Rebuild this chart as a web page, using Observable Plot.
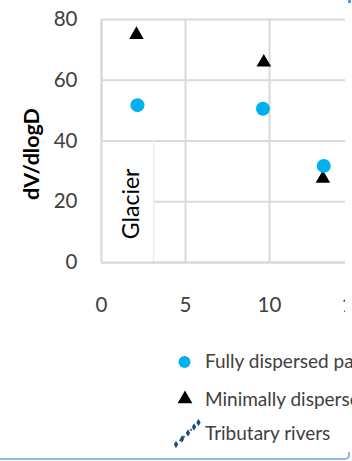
<!DOCTYPE html>
<html>
<head>
<meta charset="utf-8">
<script src="https://cdn.jsdelivr.net/npm/d3@7"></script>
<script src="https://cdn.jsdelivr.net/npm/@observablehq/plot@0.6"></script>
<style>
  html, body { margin: 0; padding: 0; background: #fff; }
  #wrap { position: relative; width: 352px; height: 461px; overflow: hidden; background: #fff; font-family: Lato, "Open Sans", sans-serif; }
  #plotbox { position: absolute; left: 0; top: 0; width: 345px; height: 320px; overflow: hidden; }
  #plotbox svg { max-width: none !important; }
  #ylabel { position: absolute; left: 31px; top: 154px; transform: translate(-50%, -50%) rotate(-90deg); font-weight: bold; font-size: 21.5px; color: #000; white-space: nowrap; }
  #legend { position: absolute; left: 0; top: 320px; }
  #border { position: absolute; left: -4px; top: 452px; width: 352px; height: 6px; border-bottom: 2px solid #8fb6e0; border-right: 2px solid #8fb6e0; border-bottom-right-radius: 5px; }
  #corner { position: absolute; left: 348px; top: 0px; width: 3px; height: 3px; background: #5b9bd5; }
</style>
</head>
<body>
<div id="wrap">
  <div id="plotbox"></div>
  <div id="ylabel">dV/dlogD</div>
  <div id="legend"></div>
  <div id="border"></div>
  <div id="corner"></div>
</div>
<script>
// Data
const xTicks = [0, 5, 10, 15];
const yTicks = [0, 20, 40, 60, 80];
const fullyX = [2.14, 9.61, 13.23];
const fullyY = [51.8, 50.6, 31.8];
const minimalX = [2.08, 9.66, 13.18];
const minimalY = [75.0, 65.9, 27.6];
const seriesNames = ["Fully dispersed particles", "Minimally dispersed particles", "Tributary rivers"];
const glacierLabel = ["Glacier"];
const glacierBox = [{x1: 0, x2: 3.1, y1: 0, y2: 40}];

const fully = fullyX.map((x, i) => ({x, y: fullyY[i]}));
const minimal = minimalX.map((x, i) => ({x, y: minimalY[i]}));

const grid = "#d9d9d9";
const tickColor = "#404040";

const chart = Plot.plot({
  width: 373,
  height: 320,
  marginLeft: 101,
  marginRight: 20,
  marginTop: 19,
  marginBottom: 58,
  style: {fontFamily: "Lato, 'Open Sans', sans-serif", background: "transparent", maxWidth: "none"},
  x: {domain: [0, 15]},
  y: {domain: [0, 80]},
  marks: [
    Plot.gridX(xTicks, {stroke: grid, strokeOpacity: 1, strokeWidth: 2}),
    Plot.gridY(yTicks, {stroke: grid, strokeOpacity: 1, strokeWidth: 2}),
    Plot.rect(glacierBox, {x1: "x1", x2: "x2", y1: "y1", y2: "y2", fill: "white", insetTop: 1.5}),
    Plot.ruleX(glacierBox, {x: "x2", y1: "y1", y2: "y2", stroke: "#eeeeee", strokeWidth: 1.5}),
    Plot.ruleX([0], {stroke: grid, strokeWidth: 2}),
    Plot.ruleY([0], {stroke: grid, strokeWidth: 2}),
    Plot.axisX(xTicks, {tickSize: 0, tickPadding: 35, fontSize: 20.5, fill: tickColor, label: null}),
    Plot.axisY(yTicks, {tickSize: 0, tickPadding: 24, fontSize: 20.5, fill: tickColor, label: null}),
    Plot.text(glacierLabel, {x: () => 1.82, y: () => 19.3, text: d => d, rotate: -90, fontSize: 23, fill: "#000"}),
    Plot.dot(minimal, {x: "x", y: "y", symbol: "triangle", r: 5.4, fill: "#000", stroke: "none"}),
    Plot.dot(fully, {x: "x", y: "y", symbol: "circle", r: 7, fill: "#00B0F0", stroke: "none"})
  ]
});
document.getElementById("plotbox").appendChild(chart);

// Legend (drawn with D3 into an SVG below the plot)
const lg = d3.select("#legend").append("svg").attr("width", 352).attr("height", 141)
  .style("font-family", "Lato, 'Open Sans', sans-serif");
const rows = [42, 80, 114];
lg.append("circle").attr("cx", 184.5).attr("cy", rows[0]).attr("r", 6).attr("fill", "#00B0F0");
lg.append("path").attr("d", d3.symbol(d3.symbolTriangle, 95)()).attr("transform", `translate(185,${rows[1] - 1})`).attr("fill", "#000");
const diamonds = [[176, 124.5], [182, 119], [188, 113], [194, 107], [198.5, 102.5]];
lg.append("line").attr("x1", 176).attr("y1", 124.5).attr("x2", 198.5).attr("y2", 102.5)
  .attr("stroke", "#2f5f96").attr("stroke-width", 2).attr("stroke-dasharray", "2,3");
lg.selectAll("path.dm").data(diamonds).join("path").attr("class", "dm")
  .attr("d", d3.symbol(d3.symbolDiamond, 16)()).attr("transform", d => `translate(${d[0]},${d[1]})`).attr("fill", "#1f4e79");
lg.selectAll("text").data(seriesNames).join("text")
  .attr("x", 205).attr("y", (d, i) => rows[i] + 6)
  .attr("font-size", 19).attr("fill", "#404040").text(d => d);
</script>
</body>
</html>
